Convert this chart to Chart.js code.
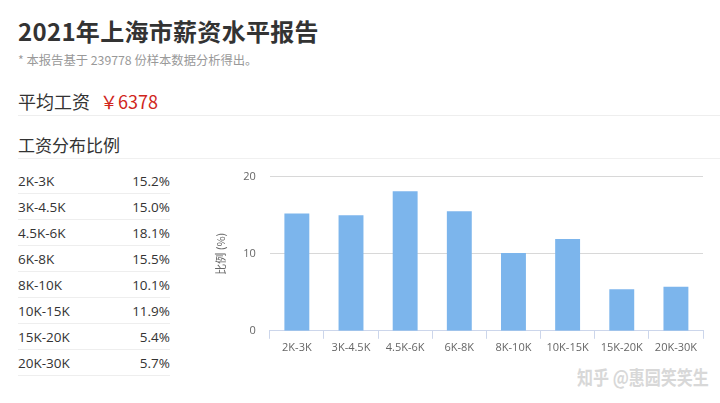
<!DOCTYPE html>
<html lang="zh">
<head>
<meta charset="utf-8" />
<script src="https://cdn.jsdelivr.net/npm/chart.js@4.4.1/dist/chart.umd.min.js"></script>
<style>
  html, body { margin: 0; padding: 0; background: #fff; }
  body { width: 720px; height: 403px; position: relative; overflow: hidden;
         font-family: "Noto Sans CJK SC", "Open Sans", sans-serif; color: #333; }
  .title { position: absolute; left: 18px; top: 13px; font-size: 24px; font-weight: 700; color: #333; letter-spacing: 0.3px; }
  .sub { position: absolute; left: 18px; top: 51px; font-size: 12.3px; color: #999; }
  .avg { position: absolute; left: 18px; top: 88px; font-size: 18px; color: #333; }
  .avg b { font-weight: 400; color: #d0261c; margin-left: 6px; }
  .rule1 { position: absolute; left: 18px; right: 0; top: 115px; border-top: 1px solid #eee; }
  .h2 { position: absolute; left: 18px; top: 132px; font-size: 17px; color: #333; }
  .rule2 { position: absolute; left: 18px; right: 0; top: 158px; border-top: 1px solid #f0f0f0; }
  table { position: absolute; left: 18px; top: 168px; width: 152px; border-collapse: collapse; font-size: 13.5px; color: #333; }
  td { height: 25px; padding: 0; border-bottom: 1px solid #eee; font-family: "Open Sans", "Noto Sans CJK SC", sans-serif; }
  td.v { text-align: right; }
  #wrap { position: absolute; left: 192px; top: 156px; width: 515px; height: 200px; }
  .mark { position: absolute; left: 577px; top: 362px; font-size: 16px; color: #d8d8d8; font-weight: 700; white-space: nowrap; transform: scaleY(1.2); transform-origin: left top; }
</style>
</head>
<body>
<div class="title">2021年上海市薪资水平报告</div>
<div class="sub">* 本报告基于 239778 份样本数据分析得出。</div>
<div class="avg">平均工资 <b>￥6378</b></div>
<div class="rule1"></div>
<div class="h2">工资分布比例</div>
<div class="rule2"></div>
<table id="tbl"></table>
<div id="wrap"><canvas id="c"></canvas></div>
<div class="mark">知乎 @惠园笑笑生</div>
<script>
const categories = ['2K-3K', '3K-4.5K', '4.5K-6K', '6K-8K', '8K-10K', '10K-15K', '15K-20K', '20K-30K'];
const shares = [15.2, 15.0, 18.1, 15.5, 10.1, 11.9, 5.4, 5.7];
const yTicks = [0, 10, 20];

const tbl = document.getElementById('tbl');
tbl.innerHTML = categories
  .map((c, i) => `<tr><td>${c}</td><td class="v">${shares[i].toFixed(1)}%</td></tr>`)
  .join('');

Chart.defaults.font.family = "'Open Sans','Noto Sans CJK SC',sans-serif";
new Chart(document.getElementById('c'), {
  type: 'bar',
  data: {
    labels: categories,
    datasets: [{ data: shares, backgroundColor: '#7cb5ec', barPercentage: 0.46, categoryPercentage: 1 }]
  },
  options: {
    responsive: true,
    maintainAspectRatio: false,
    animation: false,
    layout: { padding: { top: 5, right: 4, left: 18 } },
    plugins: { legend: { display: false }, tooltip: { enabled: false } },
    scales: {
      x: {
        offset: true,
        grid: { drawOnChartArea: false, offset: true, tickLength: 8, color: '#ccd6eb' },
        border: { color: '#ccd6eb' },
        ticks: { color: '#666', font: { size: 11 }, padding: 2, maxRotation: 0, autoSkip: false }
      },
      y: {
        min: 0, max: 20,
        afterBuildTicks: (ax) => { ax.ticks = yTicks.map((v) => ({ value: v })); },
        grid: { color: '#d8d8d8', drawTicks: false, lineWidth: (ctx) => (ctx.tick && ctx.tick.value === 0 ? 0 : 1) },
        border: { display: false },
        ticks: { color: '#666', font: { size: 11 }, padding: 14 },
        title: { display: true, text: '比例 (%)', color: '#666', font: { size: 11, family: "'Noto Sans CJK SC',sans-serif" }, padding: { bottom: 2 } }
      }
    }
  }
});
</script>
</body>
</html>
